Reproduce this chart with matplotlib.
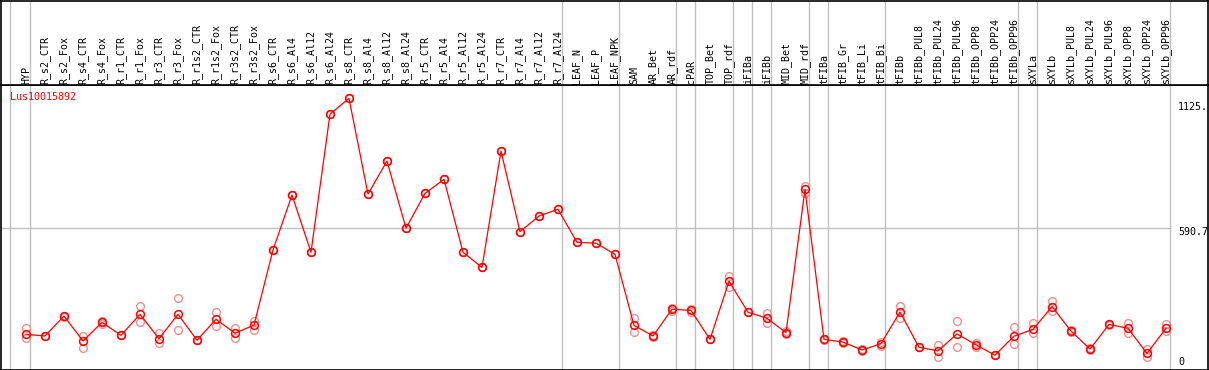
import matplotlib
matplotlib.use('Agg')
import matplotlib.pyplot as plt
from matplotlib.transforms import blended_transform_factory

# ---------------- data ----------------
categories = ["HYP", "R_s2_CTR", "R_s2_Fox", "R_s4_CTR", "R_s4_Fox", "R_r1_CTR", "R_r1_Fox",
              "R_r3_CTR", "R_r3_Fox", "R_r1s2_CTR", "R_r1s2_Fox", "R_r3s2_CTR", "R_r3s2_Fox",
              "R_s6_CTR", "R_s6_Al4", "R_s6_Al12", "R_s6_Al24", "R_s8_CTR", "R_s8_Al4",
              "R_s8_Al12", "R_s8_Al24", "R_r5_CTR", "R_r5_Al4", "R_r5_Al12", "R_r5_Al24",
              "R_r7_CTR", "R_r7_Al4", "R_r7_Al12", "R_r7_Al24", "LEAF_N", "LEAF_P", "LEAF_NPK",
              "SAM", "AR_Bet", "AR_rdf", "cPAR", "TOP_Bet", "TOP_rdf", "iFIBa", "iFIBb",
              "MID_Bet", "MID_rdf", "tFIBa", "tFIB_Gr", "tFIB_Li", "tFIB_Bi", "tFIBb",
              "tFIBb_PUL8", "tFIBb_PUL24", "tFIBb_PUL96", "tFIBb_OPP8", "tFIBb_OPP24",
              "tFIBb_OPP96", "sXYLa", "sXYLb", "sXYLb_PUL8", "sXYLb_PUL24", "sXYLb_PUL96",
              "sXYLb_OPP8", "sXYLb_OPP24", "sXYLb_OPP96"]

mean_values = [122, 115, 203, 93, 175, 118, 211, 103, 211, 96, 189, 127, 163,
               495, 738, 485, 1095, 1165, 742, 888, 591, 745, 807, 485, 418,
               932, 576, 645, 675, 529, 525, 476,
               162, 115, 233, 228, 100, 357, 220, 193, 130, 763,
               100, 88, 53, 81, 221, 65, 49, 124, 76, 30, 114,
               144, 245, 137, 57, 166, 149, 38, 149]

rep_high = [149, 115, 205, 116, 180, 118, 247, 127, 281, 96, 220, 149, 183,
            495, 738, 485, 1095, 1165, 742, 888, 591, 745, 807, 485, 418,
            932, 576, 645, 675, 529, 525, 476,
            193, 118, 240, 235, 100, 380, 220, 215, 135, 779,
            103, 92, 57, 90, 247, 65, 74, 181, 85, 30, 153,
            171, 271, 142, 60, 170, 171, 56, 166]

rep_low = [107, 115, 200, 63, 170, 118, 178, 85, 140, 96, 159, 105, 141,
           495, 738, 485, 1095, 1165, 742, 888, 591, 745, 807, 485, 418,
           932, 576, 645, 675, 529, 525, 476,
           134, 112, 226, 220, 100, 333, 220, 174, 125, 748,
           96, 84, 48, 72, 193, 65, 22, 65, 68, 30, 78,
           127, 225, 132, 54, 162, 130, 21, 138]

# index of last category in each group (separators drawn right after them)
group_ends = [0, 28, 31, 34, 35, 37, 38, 39, 41, 42, 45, 52, 53, 60]

gene_name = "Lus10015892"
scale_ticks = [1125.0, 590.7, 0]
scale_labels = ["1125.", "590.7", "0"]
ref_line_value = 590.7

# ---------------- layout ----------------
W, H = 1209, 370
fig = plt.figure(figsize=(W / 100, H / 100), dpi=100)

def px_to_x(px):
    return (px - 26.0) / 19.0

def px_to_v(py):
    return (362.0 - py) / 0.2263

L_px, R_px = 1.0, 1207.5
top_main_px, bot_main_px = 85.0, 369.5

ax = fig.add_axes([L_px / W, (H - bot_main_px) / H, (R_px - L_px) / W, (bot_main_px - top_main_px) / H])
hx = fig.add_axes([L_px / W, (H - top_main_px) / H, (R_px - L_px) / W, (top_main_px - 0.5) / H])

xlim = (px_to_x(L_px), px_to_x(R_px))
for a in (ax, hx):
    a.set_xlim(*xlim)
    a.set_xticks([])
    a.set_yticks([])
    for s in a.spines.values():
        s.set_color('black')
        s.set_linewidth(1.2)
ax.set_ylim(px_to_v(bot_main_px), px_to_v(top_main_px))
hx.set_ylim(0, 1)

grid_color = '#c0c0c0'
seps = [px_to_x(10.3)] + [e + 0.23 for e in group_ends]
for s in seps:
    ax.axvline(s, color=grid_color, lw=1.0, zorder=1)
    hx.axvline(s, color=grid_color, lw=1.0, zorder=1)

ax.hlines(ref_line_value, xlim[0], seps[-1], color=grid_color, lw=1.0, zorder=1)

x = list(range(len(categories)))
ax.plot(x, rep_high, linestyle='none', marker='o', ms=5.6, mfc='none', mec='#f09090', mew=1.0, zorder=2)
ax.plot(x, rep_low, linestyle='none', marker='o', ms=5.6, mfc='none', mec='#f09090', mew=1.0, zorder=2)
ax.plot(x, mean_values, color='red', lw=0.9, marker='o', ms=5.6, mfc='none', mec='red', mew=1.1, zorder=3)

mono = 'DejaVu Sans Mono'
# gene name
ax.text(px_to_x(10), px_to_v(97.5), gene_name, color='red', fontsize=7.2, family=mono,
        ha='left', va='center')

# scale labels
label_py = [107.0, 232.3, 362.3]
for lab, py in zip(scale_labels, label_py):
    ax.text(px_to_x(1178), px_to_v(py), lab, color='black', fontsize=7.2, family=mono,
            ha='left', va='center')

# category labels
tr = blended_transform_factory(hx.transData, hx.transAxes)
for i, c in enumerate(categories):
    hx.text(i, 1.5 / (top_main_px - 0.5), c, rotation=90, ha='center', va='bottom',
            fontsize=7.2, family=mono, color='black', transform=tr)

fig.savefig('out.png', dpi=100)
